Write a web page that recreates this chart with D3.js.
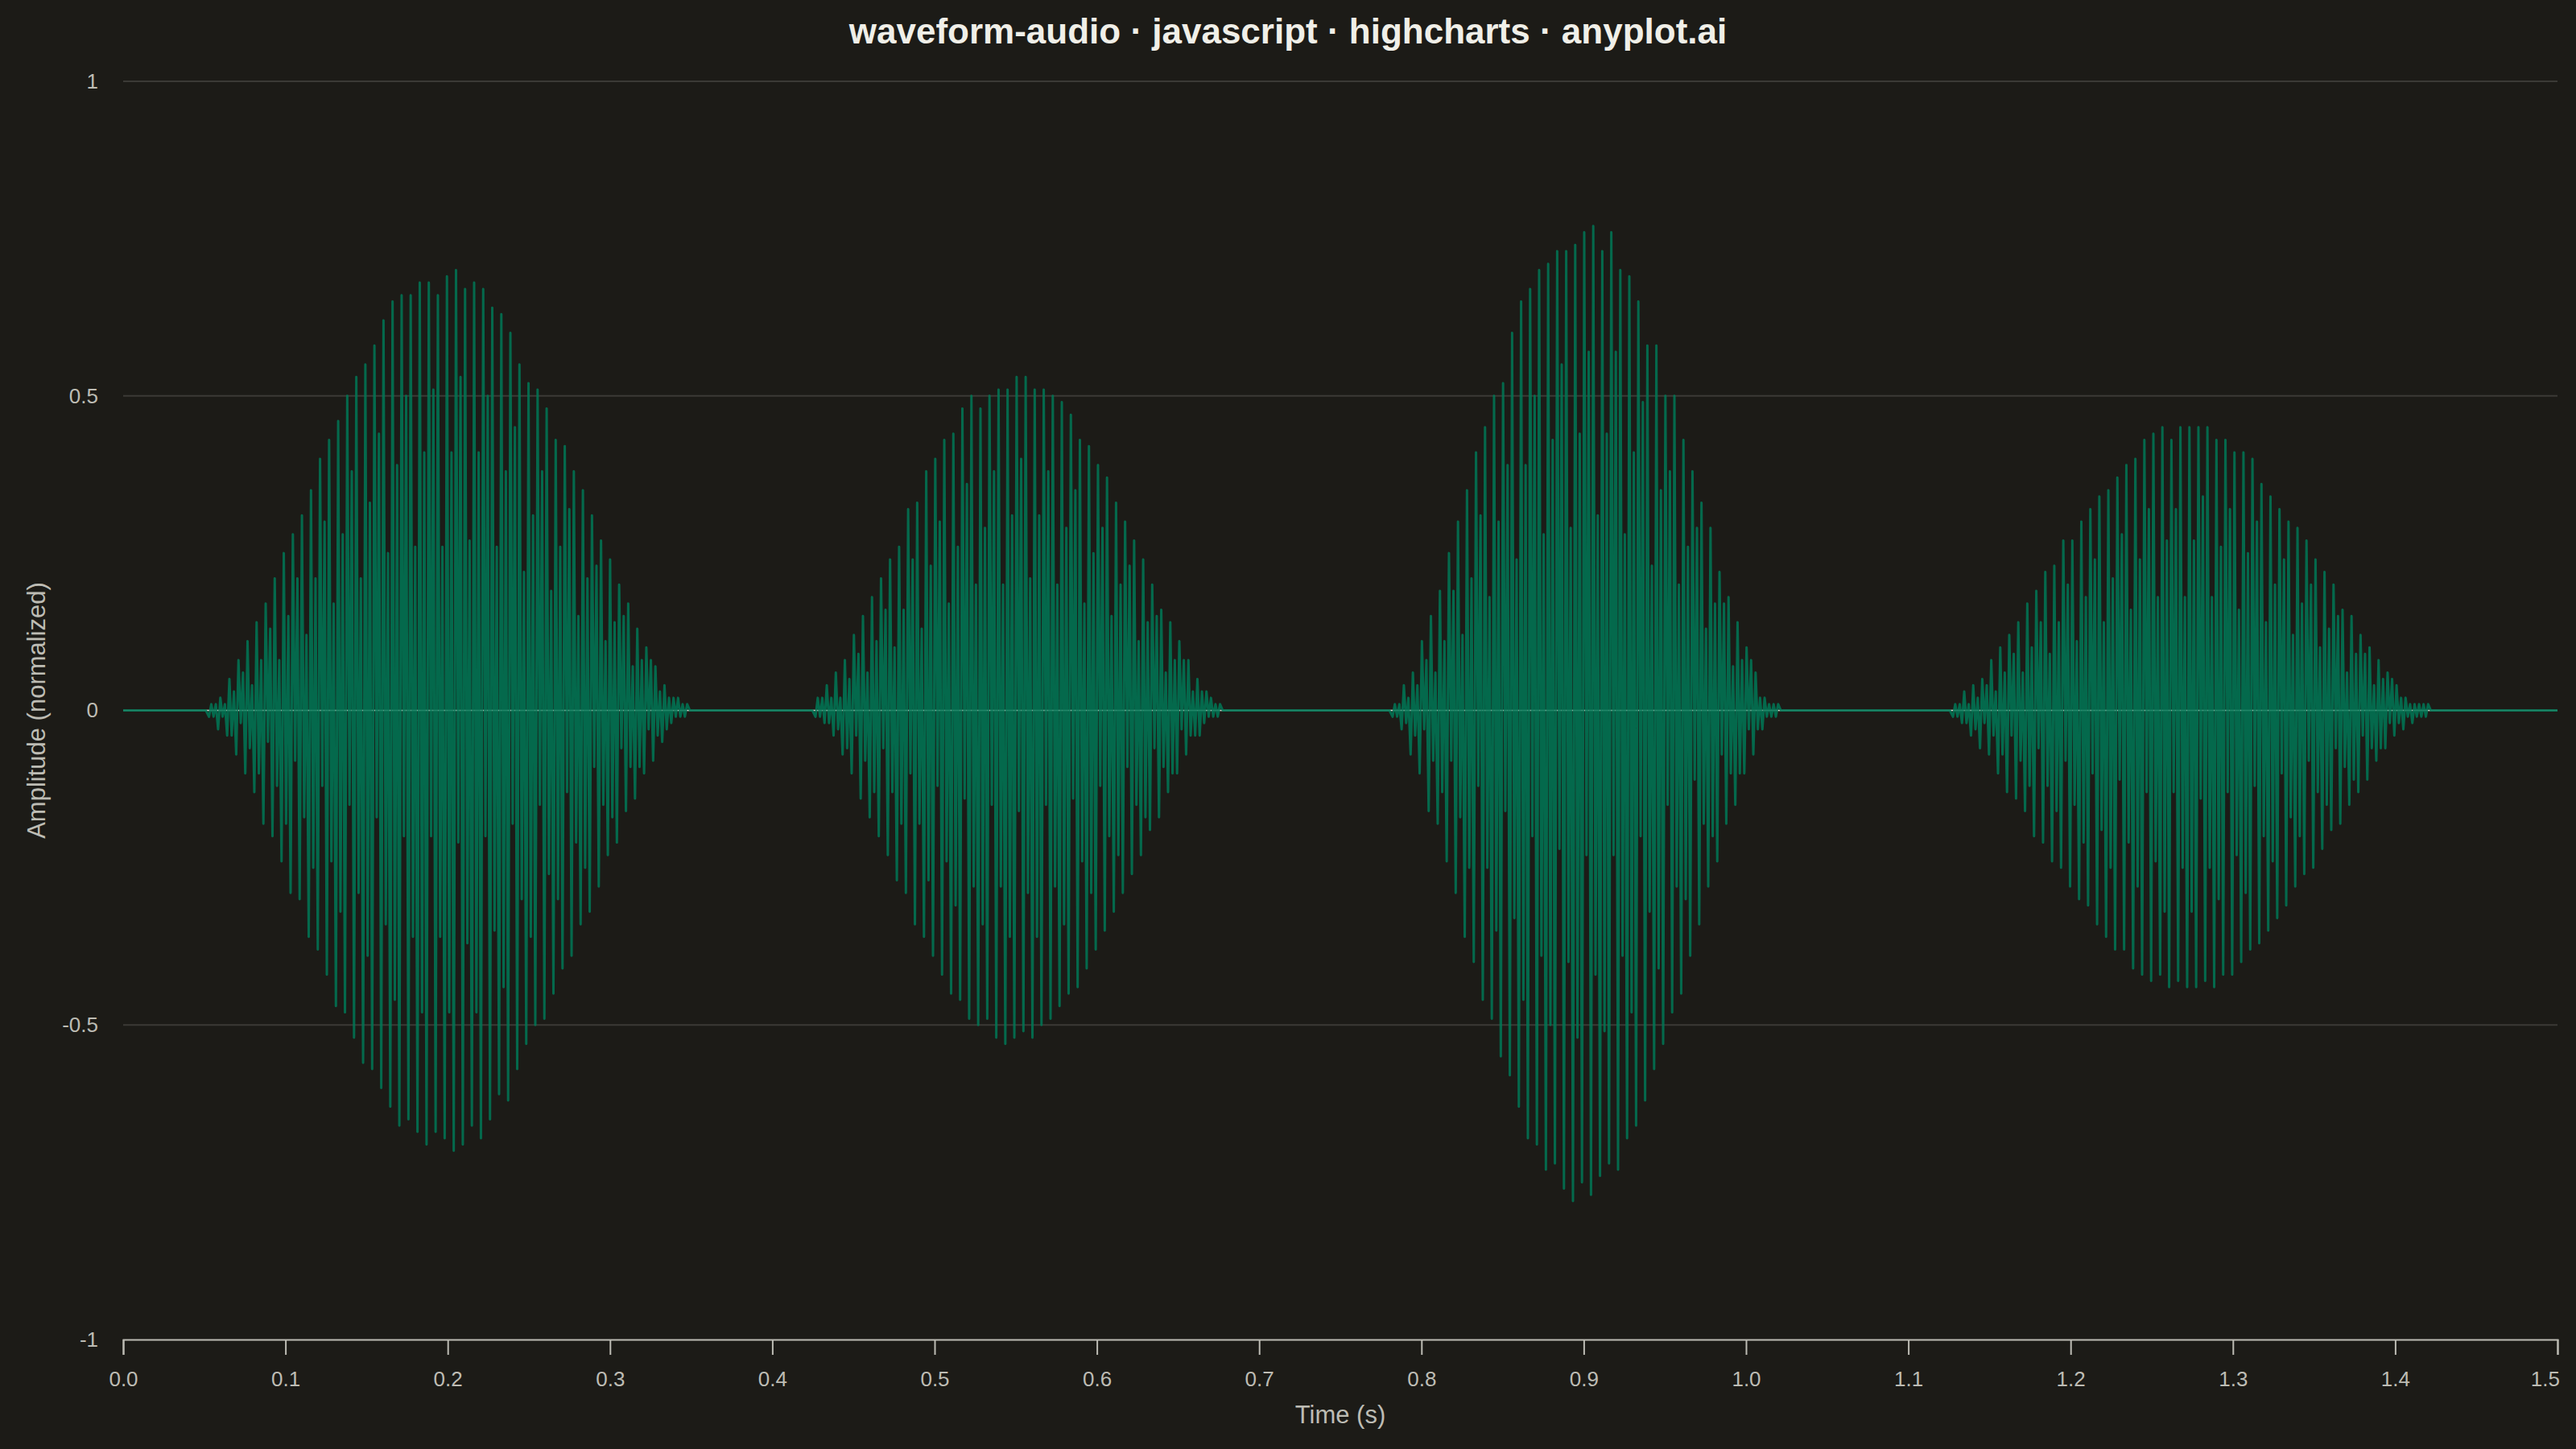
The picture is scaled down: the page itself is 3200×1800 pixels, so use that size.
<!DOCTYPE html>
<html>
<head>
<meta charset="utf-8">
<script src="https://cdn.jsdelivr.net/npm/d3@7"></script>
<style>
  html, body { margin: 0; padding: 0; background: #1c1b17; }
  svg { display: block; }
  text { font-family: "Liberation Sans", Arial, Helvetica, sans-serif; }
</style>
</head>
<body>
<div id="chart"></div>
<script>
// ---- data ----
const chartTitle = "waveform-audio · javascript · highcharts · anyplot.ai";
const xTitle = "Time (s)";
const yTitle = "Amplitude (normalized)";

const xTicks = [0, 0.1, 0.2, 0.3, 0.4, 0.5, 0.6, 0.7, 0.8, 0.9, 1.0, 1.1, 1.2, 1.3, 1.4, 1.5];
const xTickLabels = ["0.0","0.1","0.2","0.3","0.4","0.5","0.6","0.7","0.8","0.9","1.0","1.1","1.2","1.3","1.4","1.5"];
const yTicks = [-1, -0.5, 0, 0.5, 1];
const yTickLabels = ["-1", "-0.5", "0", "0.5", "1"];

// time of first tall peak and cycle length of each burst (s)
const burstStarts = [0.0543, 0.428, 0.7836, 1.1289];
const burstPeriods = [0.005585, 0.00557, 0.005557, 0.00555];

// per cycle: tall trough, tall peak, middle trough, middle peak
const burst1Troughs = [-0.01,-0.03,-0.04,-0.07,-0.10,-0.13,-0.18,-0.20,-0.24,-0.29,-0.30,-0.36,-0.38,-0.42,-0.47,-0.48,-0.52,-0.56,-0.57,-0.60,-0.63,-0.66,-0.65,-0.67,-0.69,-0.67,-0.68,-0.70,-0.69,-0.66,-0.68,-0.65,-0.61,-0.62,-0.57,-0.53,-0.50,-0.49,-0.45,-0.41,-0.39,-0.34,-0.32,-0.28,-0.23,-0.21,-0.16,-0.14,-0.10,-0.08,-0.05,-0.02,-0.01];
const burst1Peaks = [0.01,0.02,0.05,0.08,0.11,0.14,0.17,0.21,0.25,0.28,0.31,0.35,0.40,0.43,0.46,0.50,0.53,0.55,0.58,0.62,0.65,0.66,0.66,0.68,0.68,0.66,0.69,0.70,0.67,0.68,0.67,0.64,0.63,0.60,0.55,0.52,0.51,0.48,0.43,0.42,0.38,0.35,0.31,0.27,0.24,0.20,0.17,0.13,0.10,0.07,0.04,0.02,0.01];
const burst1MidTroughs = [-0.01,-0.01,-0.04,-0.02,-0.06,-0.10,-0.05,-0.12,-0.18,-0.08,-0.17,-0.25,-0.12,-0.24,-0.32,-0.15,-0.29,-0.39,-0.17,-0.34,-0.46,-0.20,-0.36,-0.48,-0.20,-0.36,-0.48,-0.21,-0.37,-0.48,-0.20,-0.35,-0.44,-0.18,-0.30,-0.36,-0.15,-0.26,-0.30,-0.13,-0.21,-0.25,-0.09,-0.15,-0.17,-0.06,-0.09,-0.09,-0.03,-0.04,-0.03,-0.01,-0.01];
const burst1MidPeaks = [0.01,0.01,0.03,0.06,0.04,0.08,0.13,0.08,0.15,0.21,0.12,0.21,0.30,0.17,0.28,0.38,0.21,0.33,0.44,0.25,0.39,0.50,0.26,0.41,0.51,0.26,0.41,0.53,0.27,0.41,0.50,0.26,0.38,0.45,0.22,0.31,0.38,0.19,0.26,0.32,0.15,0.21,0.23,0.11,0.14,0.15,0.07,0.08,0.08,0.03,0.02,0.02,0.01];

const burst2Troughs = [-0.01,-0.02,-0.04,-0.07,-0.10,-0.14,-0.17,-0.20,-0.23,-0.27,-0.29,-0.34,-0.36,-0.39,-0.42,-0.45,-0.46,-0.49,-0.50,-0.49,-0.52,-0.53,-0.52,-0.51,-0.52,-0.50,-0.49,-0.47,-0.45,-0.44,-0.41,-0.38,-0.35,-0.32,-0.29,-0.26,-0.23,-0.19,-0.17,-0.13,-0.10,-0.07,-0.04,-0.02,-0.01];
const burst2Peaks = [0.02,0.04,0.06,0.08,0.12,0.15,0.18,0.21,0.24,0.26,0.32,0.33,0.38,0.40,0.43,0.44,0.48,0.50,0.48,0.50,0.51,0.51,0.53,0.53,0.51,0.51,0.50,0.49,0.47,0.43,0.42,0.39,0.37,0.33,0.30,0.27,0.24,0.20,0.16,0.14,0.11,0.08,0.05,0.03,0.01];
const burst2MidTroughs = [-0.01,-0.02,-0.03,-0.06,-0.04,-0.08,-0.13,-0.06,-0.13,-0.18,-0.10,-0.18,-0.27,-0.12,-0.24,-0.31,-0.14,-0.28,-0.34,-0.15,-0.28,-0.36,-0.16,-0.29,-0.36,-0.15,-0.28,-0.34,-0.14,-0.24,-0.29,-0.12,-0.20,-0.23,-0.09,-0.15,-0.17,-0.06,-0.09,-0.10,-0.03,-0.04,-0.04,-0.01,-0.01];
const burst2MidPeaks = [0.02,0.02,0.02,0.05,0.09,0.06,0.11,0.16,0.10,0.16,0.24,0.13,0.23,0.30,0.17,0.26,0.36,0.20,0.29,0.38,0.20,0.31,0.40,0.21,0.31,0.38,0.20,0.29,0.35,0.17,0.25,0.29,0.15,0.20,0.23,0.11,0.14,0.15,0.06,0.08,0.08,0.03,0.03,0.02,0.01];

const burst3Troughs = [-0.01,-0.03,-0.07,-0.10,-0.16,-0.18,-0.24,-0.29,-0.36,-0.40,-0.46,-0.49,-0.55,-0.58,-0.63,-0.68,-0.69,-0.73,-0.72,-0.76,-0.78,-0.75,-0.77,-0.74,-0.72,-0.73,-0.68,-0.66,-0.62,-0.57,-0.53,-0.48,-0.45,-0.39,-0.34,-0.28,-0.24,-0.18,-0.15,-0.10,-0.07,-0.03,-0.01];
const burst3Peaks = [0.01,0.04,0.06,0.11,0.15,0.19,0.25,0.30,0.35,0.41,0.45,0.50,0.52,0.60,0.65,0.67,0.70,0.71,0.73,0.73,0.74,0.76,0.77,0.73,0.76,0.70,0.69,0.65,0.58,0.58,0.50,0.50,0.43,0.38,0.33,0.29,0.22,0.18,0.14,0.10,0.06,0.02,0.01];
const burst3MidTroughs = [-0.01,-0.02,-0.04,-0.03,-0.08,-0.13,-0.08,-0.17,-0.25,-0.12,-0.25,-0.35,-0.16,-0.33,-0.46,-0.20,-0.39,-0.50,-0.22,-0.40,-0.52,-0.23,-0.42,-0.51,-0.23,-0.39,-0.48,-0.20,-0.32,-0.41,-0.15,-0.28,-0.30,-0.11,-0.18,-0.20,-0.07,-0.10,-0.10,-0.03,-0.03,-0.01,-0.01];
const burst3MidPeaks = [0.01,0.02,0.04,0.08,0.06,0.11,0.19,0.12,0.21,0.31,0.18,0.30,0.39,0.24,0.39,0.50,0.28,0.43,0.55,0.29,0.44,0.57,0.31,0.44,0.57,0.28,0.41,0.49,0.23,0.35,0.38,0.20,0.26,0.29,0.13,0.17,0.17,0.07,0.08,0.08,0.02,0.01,0.01];

const burst4Troughs = [-0.01,-0.02,-0.04,-0.06,-0.07,-0.10,-0.13,-0.14,-0.16,-0.20,-0.21,-0.24,-0.25,-0.28,-0.30,-0.31,-0.34,-0.36,-0.38,-0.38,-0.41,-0.42,-0.43,-0.42,-0.44,-0.43,-0.44,-0.44,-0.43,-0.44,-0.42,-0.42,-0.40,-0.38,-0.37,-0.35,-0.33,-0.31,-0.28,-0.26,-0.25,-0.22,-0.19,-0.18,-0.15,-0.13,-0.11,-0.08,-0.06,-0.04,-0.03,-0.02,-0.01];
const burst4Peaks = [0.01,0.03,0.04,0.05,0.08,0.10,0.12,0.14,0.17,0.19,0.22,0.23,0.27,0.27,0.30,0.32,0.34,0.35,0.37,0.39,0.40,0.43,0.44,0.45,0.43,0.45,0.45,0.45,0.45,0.43,0.43,0.41,0.41,0.40,0.36,0.34,0.32,0.30,0.29,0.27,0.24,0.22,0.20,0.16,0.15,0.12,0.10,0.08,0.06,0.04,0.02,0.01,0.01];
const burst4MidTroughs = [-0.01,-0.02,-0.03,-0.02,-0.04,-0.07,-0.04,-0.08,-0.12,-0.06,-0.12,-0.16,-0.08,-0.15,-0.21,-0.10,-0.19,-0.25,-0.11,-0.21,-0.28,-0.13,-0.24,-0.32,-0.13,-0.25,-0.32,-0.14,-0.25,-0.30,-0.13,-0.23,-0.29,-0.12,-0.20,-0.24,-0.10,-0.17,-0.20,-0.08,-0.13,-0.15,-0.06,-0.09,-0.11,-0.04,-0.06,-0.06,-0.02,-0.02,-0.01,-0.01,-0.01];
const burst4MidPeaks = [0.01,0.01,0.02,0.04,0.03,0.06,0.09,0.06,0.10,0.14,0.09,0.14,0.20,0.11,0.18,0.24,0.14,0.21,0.28,0.16,0.24,0.32,0.18,0.27,0.32,0.18,0.27,0.34,0.18,0.26,0.32,0.16,0.25,0.30,0.14,0.20,0.24,0.12,0.17,0.20,0.10,0.13,0.15,0.06,0.09,0.09,0.04,0.05,0.05,0.02,0.01,0.01,0.01];

const bursts = [
    {troughs: burst1Troughs, peaks: burst1Peaks, midTroughs: burst1MidTroughs, midPeaks: burst1MidPeaks},
    {troughs: burst2Troughs, peaks: burst2Peaks, midTroughs: burst2MidTroughs, midPeaks: burst2MidPeaks},
    {troughs: burst3Troughs, peaks: burst3Peaks, midTroughs: burst3MidTroughs, midPeaks: burst3MidPeaks},
    {troughs: burst4Troughs, peaks: burst4Peaks, midTroughs: burst4MidTroughs, midPeaks: burst4MidPeaks}
];

// ---- layout ----
const W = 3200, H = 1800;
const margin = {top: 101, right: 23, bottom: 136, left: 153};
const width = W - margin.left - margin.right;
const height = H - margin.top - margin.bottom;

const bg = "#1c1b17";
const textColor = "#bdbcb4";
const gridColor = "#3b3a36";
const waveColor = "#007755";

// series: samples in time order, silence between the bursts
const samples = [[0, 0]];
bursts.forEach((b, k) => {
    const t0 = burstStarts[k], p = burstPeriods[k];
    samples.push([t0 - p * 0.6, 0]);
    b.peaks.forEach((v, i) => {
        const t = t0 + i * p;
        samples.push([t - p / 4, b.troughs[i]]);
        samples.push([t, v]);
        samples.push([t + p / 4, b.midTroughs[i]]);
        samples.push([t + p / 2, b.midPeaks[i]]);
    });
    samples.push([t0 + (b.peaks.length - 1) * p + p * 0.8, 0]);
});
samples.push([1.5, 0]);

const svg = d3.select("#chart")
    .append("svg")
    .attr("width", W)
    .attr("height", H);

svg.append("rect")
    .attr("width", W)
    .attr("height", H)
    .attr("fill", bg);

svg.append("text")
    .attr("x", W / 2)
    .attr("y", 54)
    .attr("text-anchor", "middle")
    .attr("font-size", 44)
    .attr("font-weight", "bold")
    .attr("fill", "#f0efe8")
    .text(chartTitle);

const g = svg.append("g")
    .attr("transform", `translate(${margin.left}, ${margin.top})`);

const xScale = d3.scaleLinear().domain([0, 1.5]).range([0, width]);
const yScale = d3.scaleLinear().domain([-1, 1]).range([height, 0]);

// grid lines
g.append("g")
    .selectAll("line")
    .data(yTicks.filter(d => d > -1))
    .enter()
    .append("line")
    .attr("x1", 0)
    .attr("x2", width)
    .attr("y1", d => yScale(d))
    .attr("y2", d => yScale(d))
    .attr("stroke", gridColor)
    .attr("stroke-width", 2);

// zero line under the wave
g.append("line")
    .attr("x1", 0)
    .attr("x2", width)
    .attr("y1", yScale(0))
    .attr("y2", yScale(0))
    .attr("stroke", "#e2e0d8")
    .attr("stroke-width", 1.4);

svg.append("clipPath")
    .attr("id", "plot-clip")
    .append("rect")
    .attr("width", width)
    .attr("height", height);

const line = d3.line()
    .x(d => xScale(d[0]))
    .y(d => yScale(d[1]));

g.append("path")
    .datum(samples)
    .attr("clip-path", "url(#plot-clip)")
    .attr("d", line)
    .attr("fill", "none")
    .attr("stroke", waveColor)
    .attr("stroke-opacity", 0.86)
    .attr("stroke-width", 3)
    .attr("stroke-linejoin", "round");

// x axis
const xAxis = d3.axisBottom(xScale)
    .tickValues(xTicks)
    .tickFormat((d, i) => xTickLabels[i])
    .tickSize(19)
    .tickPadding(21);

const xg = g.append("g")
    .attr("transform", `translate(0, ${height})`)
    .call(xAxis);

xg.select(".domain")
    .attr("stroke", textColor)
    .attr("stroke-width", 2);
xg.selectAll(".tick line")
    .attr("stroke", textColor)
    .attr("stroke-width", 2);
xg.selectAll(".tick text")
    .attr("fill", textColor)
    .attr("font-size", 26)
    .attr("font-family", "Liberation Sans, Arial, sans-serif");

// keep the last label inside the chart, like the original
xg.selectAll(".tick text").each(function() {
    const box = this.getBBox();
    const tick = this.parentNode.transform.baseVal.consolidate().matrix.e;
    const over = margin.left + tick + box.x + box.width - (margin.left + width + 3);
    if (over > 0) d3.select(this).attr("x", -over);
});

// y axis
const yAxis = d3.axisLeft(yScale)
    .tickValues(yTicks)
    .tickFormat((d, i) => yTickLabels[i])
    .tickSize(0)
    .tickPadding(31);

const yg = g.append("g").call(yAxis);
yg.select(".domain").remove();
yg.selectAll(".tick text")
    .attr("fill", textColor)
    .attr("font-size", 26)
    .attr("font-family", "Liberation Sans, Arial, sans-serif");

// axis titles
svg.append("text")
    .attr("x", margin.left + width / 2)
    .attr("y", 1768)
    .attr("text-anchor", "middle")
    .attr("font-size", 31)
    .attr("fill", textColor)
    .text(xTitle);

svg.append("text")
    .attr("transform", `translate(45, ${margin.top + height / 2}) rotate(-90)`)
    .attr("text-anchor", "middle")
    .attr("dominant-baseline", "central")
    .attr("font-size", 31)
    .attr("fill", textColor)
    .text(yTitle);
</script>
</body>
</html>
